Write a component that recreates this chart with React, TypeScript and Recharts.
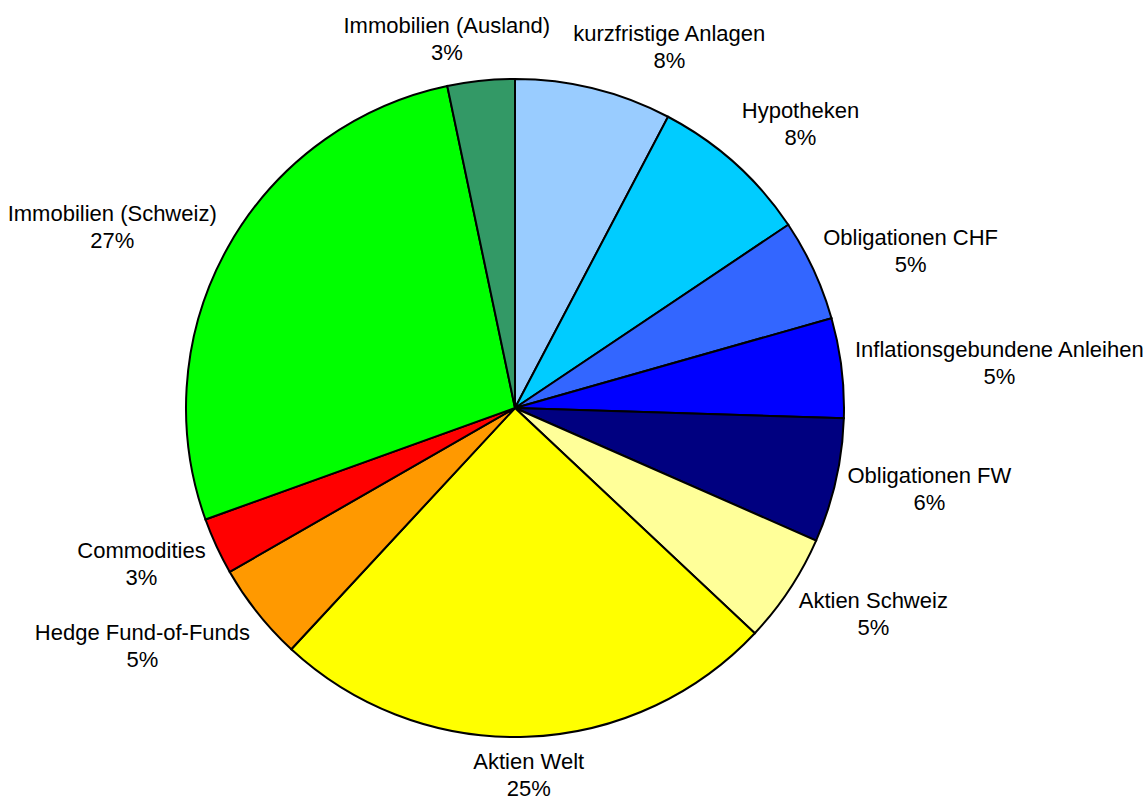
import { PieChart, Pie, Cell } from "recharts";

// Portfolio allocation, clockwise from 12 o'clock
const categories = [
  "kurzfristige Anlagen",
  "Hypotheken",
  "Obligationen CHF",
  "Inflationsgebundene Anleihen",
  "Obligationen FW",
  "Aktien Schweiz",
  "Aktien Welt",
  "Hedge Fund-of-Funds",
  "Commodities",
  "Immobilien (Schweiz)",
  "Immobilien (Ausland)",
];

const shares = [7.7, 7.9, 5.0, 4.9, 6.1, 5.4, 24.9, 4.8, 2.8, 27.2, 3.3];

const colors = [
  "#99CCFF",
  "#00CCFF",
  "#3366FF",
  "#0000FF",
  "#000080",
  "#FFFF99",
  "#FFFF00",
  "#FF9900",
  "#FF0000",
  "#00FF00",
  "#339966",
];

const data = categories.map((name, i) => ({ name, value: shares[i] }));

const FONT = "Liberation Sans, Arial, Helvetica, sans-serif";
const FONT_SIZE = 22;
const LINE_GAP = 27;
const RAD = Math.PI / 180;

// labels Excel pushed aside to avoid overlap
const nudge: Record<string, [number, number]> = {
  "Immobilien (Ausland)": [-22, -3],
  "kurzfristige Anlagen": [49, -4],
  "Hypotheken": [17, -10],
  "Obligationen CHF": [5, -2],
  "Hedge Fund-of-Funds": [-20, 9],
  "Commodities": [-4, 1],
  "Aktien Schweiz": [10, 3],
  "Immobilien (Schweiz)": [-12, -2],
  "Aktien Welt": [0, -1],
};

let ctx: CanvasRenderingContext2D | null = null;
function textWidth(s: string) {
  if (!ctx) ctx = document.createElement("canvas").getContext("2d");
  if (!ctx) return s.length * FONT_SIZE * 0.5;
  ctx.font = `${FONT_SIZE}px ${FONT}`;
  return ctx.measureText(s).width;
}

function renderLabel(props: any) {
  const { cx, cy, midAngle, outerRadius, name, percent } = props;
  const pct = `${Math.round(percent * 100)}%`;
  const w = Math.max(textWidth(name), textWidth(pct));
  const h = 50;
  const dirX = Math.cos(midAngle * RAD);
  const dirY = -Math.sin(midAngle * RAD);
  const r = outerRadius + 14;
  const [nx, ny] = nudge[name] || [0, 0];
  const x = cx + r * dirX + (dirX * w) / 2 + nx;
  const y = cy + r * dirY + (dirY * h) / 2 + ny;
  return (
    <text
      x={x}
      y={y}
      textAnchor="middle"
      fontFamily={FONT}
      fontSize={FONT_SIZE}
      fill="#000"
    >
      <tspan x={x} y={y - LINE_GAP / 2} dominantBaseline="central">
        {name}
      </tspan>
      <tspan x={x} y={y + LINE_GAP / 2} dominantBaseline="central">
        {pct}
      </tspan>
    </text>
  );
}

export default function App() {
  return (
    <div style={{ position: "absolute", left: 0, top: 0, background: "#fff" }}>
      <PieChart width={1143} height={798} margin={{ top: 0, right: 0, bottom: 0, left: 0 }}>
        <Pie
          data={data}
          dataKey="value"
          nameKey="name"
          cx={515}
          cy={408}
          outerRadius={329}
          startAngle={90}
          endAngle={-270}
          stroke="#000"
          strokeWidth={2}
          label={renderLabel}
          labelLine={false}
          isAnimationActive={false}
        >
          {data.map((d, i) => (
            <Cell key={d.name} fill={colors[i]} />
          ))}
        </Pie>
      </PieChart>
    </div>
  );
}
